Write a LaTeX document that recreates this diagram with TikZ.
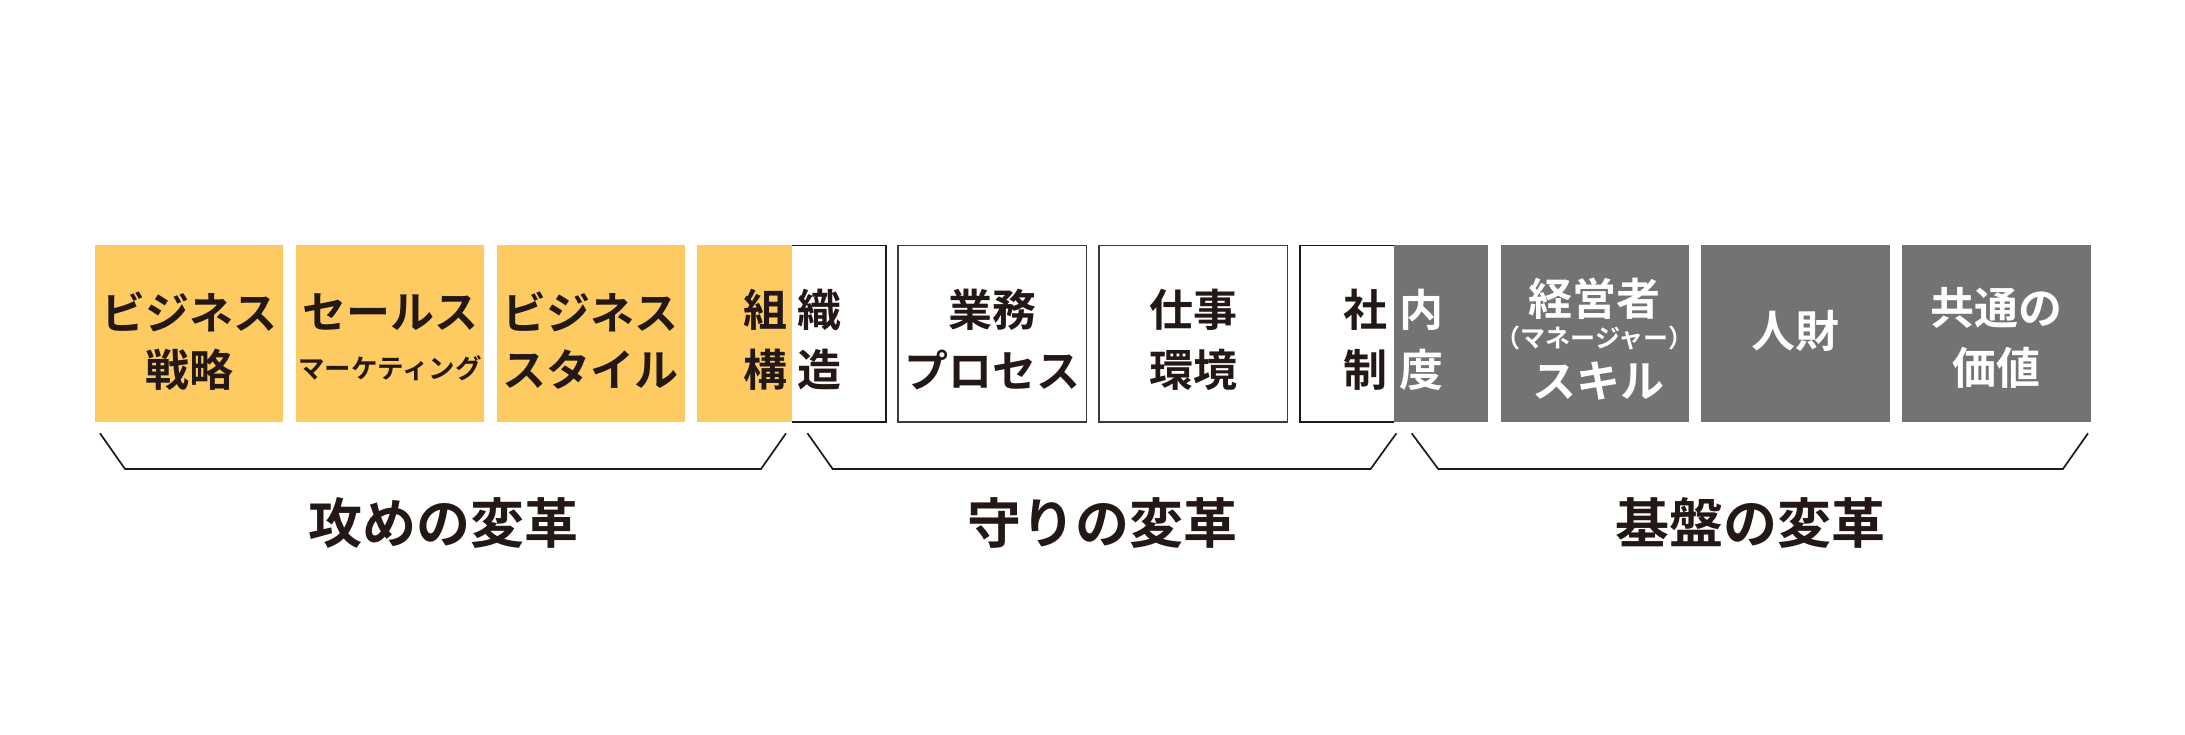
\documentclass[tikz,border=0pt]{standalone}
\usepackage{fontspec}
\newfontfamily\jp{Noto Sans CJK JP Bold}
\definecolor{ylw}{HTML}{FECB63}
\definecolor{gry}{HTML}{737471}
\definecolor{ink}{HTML}{231815}
\definecolor{edge}{HTML}{3E3A39}
\tikzset{
  box/.style={minimum width=188.4pt, minimum height=176.5pt, inner sep=0pt, anchor=north west, outer sep=0pt},
  halfbox/.style={minimum width=94.2pt, minimum height=176.5pt, inner sep=0pt, anchor=north west, outer sep=0pt},
  ybox/.style={fill=ylw},
  gbox/.style={fill=gry},
  wbox/.style={fill=white, draw=edge, line width=1.5pt},
  bigtxt/.style={font=\jp\fontsize{44}{50}\selectfont, text=ink, inner sep=0pt},
  wtxt/.style={font=\jp\fontsize{44}{50}\selectfont, text=white, inner sep=0pt},
  smalltxt/.style={font=\jp\fontsize{26.5}{30}\selectfont, text=ink, inner sep=0pt},
  wsmalltxt/.style={font=\jp\fontsize{25}{28}\selectfont, text=white, inner sep=0pt},
  grouptxt/.style={font=\jp\fontsize{54}{60}\selectfont, text=ink, inner sep=0pt},
  bracket/.style={draw=ink, line width=1.7pt, line join=miter},
  splitedge/.style={draw=ink, line width=1.5pt}
}
\begin{document}
\begin{tikzpicture}[x=1pt,y=-1pt]
\useasboundingbox (0,0) rectangle (2185,735);
% boxes
\node[box,ybox] (b1) at (95,245.5) {};
\node[box,ybox] (b2) at (295.8,245.5) {};
\node[box,ybox] (b3) at (496.6,245.5) {};
\node[halfbox,ybox] (b4y) at (697.4,245.5) {};
\node[halfbox,fill=white] (b4w) at (791.6,245.5) {};
\draw[splitedge] (b4w.north west) -- (b4w.north east) -- (b4w.south east) -- (b4w.south west);
\node[box,wbox] (b5) at (898.2,245.5) {};
\node[box,wbox] (b6) at (1099,245.5) {};
\node[halfbox,fill=white] (b7w) at (1299.8,245.5) {};
\node[halfbox,gbox] (b7g) at (1394,245.5) {};
\draw[splitedge] (b7w.north east) -- (b7w.north west) -- (b7w.south west) -- (b7w.south east);
\node[box,gbox] (b8) at (1500.6,245.5) {};
\node[box,gbox] (b9) at (1701.4,245.5) {};
\node[box,gbox] (b10) at (1902.2,245.5) {};
% texts
\node[bigtxt] (t1a) at (189.2,312) {ビジネス};
\node[bigtxt] (t1b) at (189.2,370) {戦略};
\node[bigtxt] (t2a) at (390,312) {セールス};
\node[smalltxt] (t2b) at (390,368) {マーケティング};
\node[bigtxt] (t3a) at (590.8,312) {ビジネス};
\node[bigtxt] (t3b) at (590.8,370) {スタイル};
\node[bigtxt] (t4a) at (765,310) {組};
\node[bigtxt] (t4b) at (765,370) {構};
\node[bigtxt] (t4c) at (819,310) {織};
\node[bigtxt] (t4d) at (819,370) {造};
\node[bigtxt] (t5a) at (992.4,310) {業務};
\node[bigtxt] (t5b) at (992.4,370) {プロセス};
\node[bigtxt] (t6a) at (1193.2,310) {仕事};
\node[bigtxt] (t6b) at (1193.2,370) {環境};
\node[bigtxt] (t7a) at (1365,310) {社};
\node[bigtxt] (t7b) at (1365,370) {制};
\node[wtxt] (t7c) at (1421,310) {内};
\node[wtxt] (t7d) at (1421,370) {度};
\node[wtxt] (t8a) at (1594.8,299) {経営者};
\node[wsmalltxt] (t8b) at (1594.8,338) {（マネージャー）};
\node[wtxt] (t8c) at (1598,381) {スキル};
\node[wtxt] (t9) at (1795.6,331) {人財};
\node[wtxt] (t10a) at (1996.4,308) {共通の};
\node[wtxt] (t10b) at (1996.4,368) {価値};
% brackets
\draw[bracket] (100,433.3) -- (125,469) -- (761,469) -- (786,433.3);
\draw[bracket] (807.5,433.3) -- (832.7,469) -- (1370.6,469) -- (1396.4,433.3);
\draw[bracket] (1411.7,433.3) -- (1438.2,469) -- (2062.9,469) -- (2088,433.3);
% group labels
\node[grouptxt] (g1) at (443,523) {攻めの変革};
\node[grouptxt] (g2) at (1102,523) {守りの変革};
\node[grouptxt] (g3) at (1750,523) {基盤の変革};
\end{tikzpicture}
\end{document}
